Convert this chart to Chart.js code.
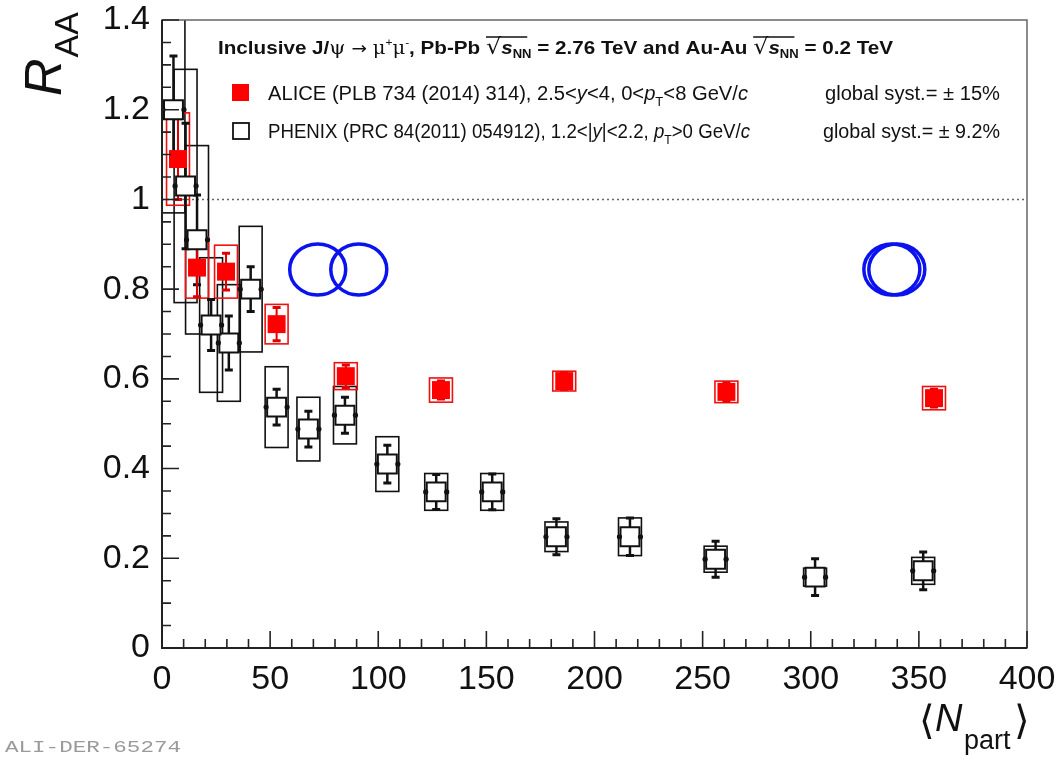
<!DOCTYPE html>
<html>
<head>
<meta charset="utf-8">
<script src="https://cdn.jsdelivr.net/npm/chart.js@4.4.0/dist/chart.umd.min.js"></script>
<style>
  html, body { margin: 0; padding: 0; background: #fff; }
  #wrap { width: 1059px; height: 762px; }
</style>
</head>
<body>
<div id="wrap"><canvas id="raa" width="1059" height="762"></canvas></div>
<script>
// ALICE Pb-Pb 2.76 TeV, 2.5<y<4
const alicePart = [357, 261, 186, 129, 85, 53, 29.6, 16.2, 7.4];
const aliceRaa  = [0.557, 0.571, 0.595, 0.575, 0.606, 0.722, 0.839, 0.848, 1.09];
const aliceStat = [0.02, 0.02, 0.018, 0.02, 0.025, 0.037, 0.041, 0.065, 0.09];
const aliceSyst = [0.026, 0.024, 0.022, 0.027, 0.03, 0.044, 0.059, 0.068, 0.103];

// PHENIX Au-Au 0.2 TeV, 1.2<|y|<2.2
const phenixPart = [352, 302, 256, 216.4, 182.4, 152.7, 126.8, 104.2, 84.6, 67.7, 53.0, 41.0, 30.9, 22.7, 16.2, 10.9, 5.3];
const phenixRaa  = [0.172, 0.158, 0.198, 0.248, 0.248, 0.348, 0.348, 0.41, 0.519, 0.488, 0.537, 0.80, 0.68, 0.72, 0.91, 1.03, 1.2];
const phenixStat = [0.042, 0.041, 0.04, 0.042, 0.04, 0.04, 0.039, 0.042, 0.04, 0.04, 0.04, 0.05, 0.06, 0.057, 0.1, 0.14, 0.12];
const phenixSyst = [0.03, 0.02, 0.029, 0.042, 0.033, 0.041, 0.041, 0.061, 0.064, 0.071, 0.09, 0.14, 0.13, 0.15, 0.21, 0.26, 0.23];

const boxHalf = 5.3; // syst box half width in Npart units

const yTicks = [0, 0.2, 0.4, 0.6, 0.8, 1, 1.2, 1.4];
const xTicks = [0, 50, 100, 150, 200, 250, 300, 350, 400];

// blue hand-drawn circles (annotation), centres in data coords
const ringPart = [72, 91, 337.5, 339.8];
const ringRaa  = [0.844, 0.844, 0.844, 0.844];

const F = '"Liberation Sans", Arial, sans-serif';

function rich(ctx, x, y, segs, targetW, color) {
  let w = 0;
  segs.forEach((s) => { ctx.font = s.f; s.w = ctx.measureText(s.t).width; w += s.w; });
  const k = targetW ? targetW / w : 1;
  ctx.save();
  ctx.translate(x, y);
  ctx.scale(k, 1);
  ctx.fillStyle = color || '#111';
  ctx.textBaseline = 'alphabetic';
  ctx.textAlign = 'left';
  let cx = 0;
  segs.forEach((s) => {
    ctx.font = s.f;
    ctx.fillText(s.t, cx, s.dy || 0);
    if (s.over) {
      ctx.strokeStyle = ctx.fillStyle;
      ctx.lineWidth = 1.5;
      ctx.beginPath();
      ctx.moveTo(cx, s.over);
      ctx.lineTo(cx + s.overW, s.over);
      ctx.stroke();
    }
    cx += s.w;
  });
  ctx.restore();
}

const decor = {
  id: 'decor',
  beforeDatasetsDraw(chart) {
    const { ctx, chartArea: a, scales: { x, y } } = chart;
    ctx.save();
    ctx.beginPath();
    ctx.rect(a.left, a.top, a.right - a.left, a.bottom - a.top);
    ctx.clip();

    // dotted line at unity
    ctx.strokeStyle = '#666';
    ctx.lineWidth = 1.5;
    ctx.setLineDash([2, 3]);
    ctx.beginPath();
    ctx.moveTo(a.left, y.getPixelForValue(1));
    ctx.lineTo(a.right, y.getPixelForValue(1));
    ctx.stroke();
    ctx.setLineDash([]);

    const boxes = (part, raa, syst, color) => {
      ctx.strokeStyle = color;
      ctx.lineWidth = 1.6;
      part.forEach((n, i) => {
        const x0 = x.getPixelForValue(n - boxHalf), x1 = x.getPixelForValue(n + boxHalf);
        const y0 = y.getPixelForValue(raa[i] + syst[i]), y1 = y.getPixelForValue(raa[i] - syst[i]);
        ctx.strokeRect(x0, y0, x1 - x0, y1 - y0);
      });
    };
    boxes(phenixPart, phenixRaa, phenixSyst, '#111');
    boxes(alicePart, aliceRaa, aliceSyst, '#f01010');

    const bars = (part, raa, stat, color, lw) => {
      ctx.strokeStyle = color;
      part.forEach((n, i) => {
        const px = x.getPixelForValue(n);
        const yt = y.getPixelForValue(raa[i] + stat[i]), yb = y.getPixelForValue(raa[i] - stat[i]);
        ctx.lineWidth = lw;
        ctx.beginPath();
        ctx.moveTo(px, yt); ctx.lineTo(px, yb);
        ctx.stroke();
        ctx.lineWidth = 3;
        ctx.beginPath();
        ctx.moveTo(px - 4, yt); ctx.lineTo(px + 4, yt);
        ctx.moveTo(px - 4, yb); ctx.lineTo(px + 4, yb);
        ctx.stroke();
      });
    };
    bars(phenixPart, phenixRaa, phenixStat, '#111', 2.5);
    bars(alicePart, aliceRaa, aliceStat, '#e00000', 2);
    ctx.restore();
  },
  afterDatasetsDraw(chart) {
    const { ctx, chartArea: a, scales: { x, y } } = chart;
    ctx.save();
    ctx.beginPath();
    ctx.rect(a.left, a.top, a.right - a.left, a.bottom - a.top);
    ctx.clip();
    // small side dots of the PHENIX markers
    ctx.fillStyle = '#111';
    phenixPart.forEach((n, i) => {
      const px = x.getPixelForValue(n), py = y.getPixelForValue(phenixRaa[i]);
      [-1, 1].forEach((s) => {
        ctx.beginPath();
        ctx.arc(px + s * 10.5, py, 2.6, 0, Math.PI * 2);
        ctx.fill();
      });
    });
    ctx.restore();
  },
  afterDraw(chart) {
    const { ctx, chartArea: a, scales: { x, y } } = chart;
    ctx.save();

    // frame
    ctx.strokeStyle = '#666';
    ctx.lineWidth = 1.5;
    ctx.strokeRect(a.left, a.top, a.right - a.left, a.bottom - a.top);
    ctx.strokeStyle = '#222';
    ctx.lineWidth = 2;
    ctx.beginPath();
    ctx.moveTo(a.left, a.top); ctx.lineTo(a.left, a.bottom); ctx.lineTo(a.right, a.bottom);
    ctx.stroke();

    // inner tick marks
    ctx.lineWidth = 1.6;
    ctx.beginPath();
    for (let k = 0; k <= 28; k++) {
      const py = y.getPixelForValue(k * 0.05);
      const len = k % 4 === 0 ? 17 : 9;
      ctx.moveTo(a.left, py); ctx.lineTo(a.left + len, py);
    }
    for (let n = 0; n <= 400; n += 10) {
      const px = x.getPixelForValue(n);
      const len = n % 50 === 0 ? 17 : 9;
      ctx.moveTo(px, a.bottom); ctx.lineTo(px, a.bottom - len);
    }
    ctx.stroke();

    // annotation circles
    ctx.strokeStyle = '#0a12ee';
    ctx.lineWidth = 3.5;
    ringPart.forEach((n, i) => {
      ctx.beginPath();
      ctx.ellipse(x.getPixelForValue(n), y.getPixelForValue(ringRaa[i]), 28, 25.5, 0, 0, Math.PI * 2);
      ctx.stroke();
    });

    // header
    const hb = 'bold 19px ' + F, hs = 'bold 12px ' + F, hi = 'italic bold 19px ' + F;
    rich(ctx, 218, 54, [
      { t: 'Inclusive J/', f: hb },
      { t: 'ψ', f: '19px "DejaVu Serif", serif' },
      { t: ' → ', f: '17px "DejaVu Sans", sans-serif' },
      { t: 'μ', f: '18px "DejaVu Serif", serif' },
      { t: '+', f: '11px ' + F, dy: -8 },
      { t: 'μ', f: '18px "DejaVu Serif", serif' },
      { t: '-', f: '11px ' + F, dy: -8 },
      { t: ', Pb-Pb ', f: hb },
      { t: '√', f: '22px "DejaVu Sans", sans-serif', over: -17, overW: 38 },
      { t: 's', f: hi },
      { t: 'NN', f: hs, dy: 4 },
      { t: ' = 2.76 TeV and Au-Au ', f: hb },
      { t: '√', f: '22px "DejaVu Sans", sans-serif', over: -17, overW: 38 },
      { t: 's', f: hi },
      { t: 'NN', f: hs, dy: 4 },
      { t: ' = 0.2 TeV', f: hb }
    ], 675);

    // legend
    ctx.fillStyle = '#f00';
    ctx.fillRect(232, 84, 17, 17);
    ctx.strokeStyle = '#111';
    ctx.lineWidth = 1.8;
    ctx.strokeRect(233, 123, 16, 16);
    const n = '20px ' + F, it = 'italic 20px ' + F, sb = '13px ' + F;
    rich(ctx, 268, 100, [
      { t: 'ALICE (PLB 734 (2014) 314), 2.5<', f: n },
      { t: 'y', f: it },
      { t: '<4, 0<', f: n },
      { t: 'p', f: it },
      { t: 'T', f: sb, dy: 6 },
      { t: '<8 GeV/', f: n },
      { t: 'c', f: it }
    ], 480);
    rich(ctx, 825, 100, [{ t: 'global syst.= ± 15%', f: n }], 175);
    rich(ctx, 268, 138, [
      { t: 'PHENIX (PRC 84(2011) 054912), 1.2<|', f: n },
      { t: 'y', f: it },
      { t: '|<2.2, ', f: n },
      { t: 'p', f: it },
      { t: 'T', f: sb, dy: 6 },
      { t: '>0 GeV/', f: n },
      { t: 'c', f: it }
    ], 482);
    rich(ctx, 823, 138, [{ t: 'global syst.= ± 9.2%', f: n }], 177);

    // y title
    ctx.save();
    ctx.translate(61, 96);
    ctx.rotate(-Math.PI / 2);
    ctx.fillStyle = '#111';
    ctx.font = 'italic 52px ' + F;
    ctx.fillText('R', 0, 0);
    const rw = ctx.measureText('R').width;
    ctx.font = '34px ' + F;
    ctx.fillText('AA', rw + 1, 17);
    ctx.restore();

    // x title
    ctx.fillStyle = '#111';
    ctx.font = '40px "DejaVu Sans", sans-serif';
    ctx.fillText('⟨', 919, 734);
    ctx.font = 'italic 38px ' + F;
    ctx.fillText('N', 935, 731);
    ctx.font = '27px ' + F;
    ctx.fillText('part', 964, 749);
    ctx.font = '40px "DejaVu Sans", sans-serif';
    ctx.fillText('⟩', 1014, 734);

    // watermark
    rich(ctx, 5, 752, [{ t: 'ALI-DER-65274', f: '17px "Liberation Mono", monospace' }], 176, '#9a9a9a');
    ctx.restore();
  }
};

new Chart(document.getElementById('raa'), {
  type: 'scatter',
  data: {
    datasets: [
      {
        label: 'ALICE',
        data: alicePart.map((n, i) => ({ x: n, y: aliceRaa[i] })),
        pointStyle: 'rect', pointRadius: 12.7, pointHoverRadius: 12.7,
        backgroundColor: '#f00', borderColor: '#f00', borderWidth: 0, order: 1
      },
      {
        label: 'PHENIX',
        data: phenixPart.map((n, i) => ({ x: n, y: phenixRaa[i] })),
        pointStyle: 'rect', pointRadius: 13.4, pointHoverRadius: 13.4,
        backgroundColor: '#fff', borderColor: '#111', borderWidth: 2, order: 2
      }
    ]
  },
  options: {
    responsive: false,
    animation: false,
    layout: { padding: { top: 20, right: 32, left: 0, bottom: 0 } },
    plugins: { legend: { display: false }, tooltip: { enabled: false } },
    scales: {
      x: {
        type: 'linear', min: 0, max: 400,
        afterBuildTicks: (s) => { s.ticks = xTicks.map((v) => ({ value: v })); },
        afterFit: (s) => { s.height = 114; },
        grid: { display: false, drawTicks: true, tickLength: 13 }, border: { display: false },
        ticks: { font: { family: 'Liberation Sans', size: 34, lineHeight: 1.1 }, color: '#111', padding: 0, maxRotation: 0, autoSkip: false }
      },
      y: {
        min: 0, max: 1.4,
        afterBuildTicks: (s) => { s.ticks = yTicks.map((v) => ({ value: v })); },
        afterFit: (s) => { s.width = 162; },
        grid: { display: false, drawTicks: true, tickLength: 12 }, border: { display: false },
        ticks: { font: { family: 'Liberation Sans', size: 34, lineHeight: 1.1 }, color: '#111', padding: 0, callback: (v) => String(v) }
      }
    }
  },
  plugins: [decor]
});
</script>
</body>
</html>
